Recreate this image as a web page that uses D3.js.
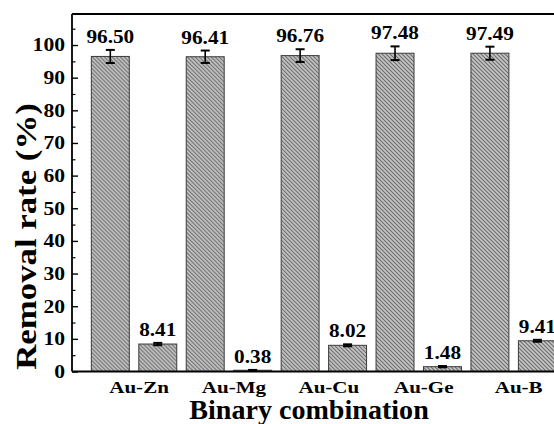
<!DOCTYPE html>
<html>
<head>
<meta charset="utf-8">
<script src="https://cdn.jsdelivr.net/npm/d3@7"></script>
</head>
<body style="margin:0;background:#fff">
<svg id="chart" width="554" height="424" style="display:block"></svg>
<script>
// Removal rate of each binary combination: first element (Au) vs. second element
const categories = ["Au-Zn", "Au-Mg", "Au-Cu", "Au-Ge", "Au-B"];
const seriesKeys = ["Au", "partner"];
const auValues = [96.50, 96.41, 96.76, 97.48, 97.49];
const auErrors = [2.0, 1.9, 1.95, 2.1, 2.0];
const partnerValues = [8.41, 0.38, 8.02, 1.48, 9.41];
const partnerErrors = [0.35, 0.1, 0.3, 0.2, 0.3];
const yTicks = [0, 10, 20, 30, 40, 50, 60, 70, 80, 90, 100];
const yMinorTicks = [5, 15, 25, 35, 45, 55, 65, 75, 85, 95, 105];

const rows = categories.map((c, i) => ({
  category: c,
  bars: [
    { key: "Au", value: auValues[i], err: auErrors[i] },
    { key: "partner", value: partnerValues[i], err: partnerErrors[i] }
  ]
}));

const svg = d3.select("#chart");
const plotLeft = 72, plotTop = 14, plotBottom = 371.5;

const x0 = d3.scaleBand().domain(categories).range([86.6, 561.1]).paddingInner(0.1).paddingOuter(0.05);
const x1 = d3.scaleBand().domain(seriesKeys).range([0, x0.bandwidth()]).paddingInner(0.2);
const y = d3.scaleLinear().domain([0, 109.5]).range([plotBottom, plotTop]);

// diagonal hatch fill
const defs = svg.append("defs");
const pat = defs.append("pattern")
  .attr("id", "hatch").attr("patternUnits", "userSpaceOnUse")
  .attr("width", 4).attr("height", 4);
pat.append("rect").attr("width", 4).attr("height", 4).attr("fill", "#c6c6c6");
pat.append("path")
  .attr("d", "M0,0 L4,4 M-1,3 L1,5 M3,-1 L5,1")
  .attr("stroke", "#6a6a6a").attr("stroke-width", 1.1);

// bold serif text placed at (x, y), widened horizontally by factor k
function styled(sel, size, k, xf, yf, rot) {
  sel.style("font-family", "'Liberation Serif'")
    .style("font-weight", "bold")
    .style("font-size", size + "px")
    .attr("fill", "#000")
    .attr("transform", (d, i) =>
      `translate(${xf(d, i)},${yf(d, i)})${rot ? ` rotate(${rot})` : ""} scale(${k},1)`);
}

// bars
const groups = svg.append("g").selectAll("g").data(rows).join("g")
  .attr("transform", d => `translate(${x0(d.category)},0)`);

groups.selectAll("rect").data(d => d.bars).join("rect")
  .attr("x", d => x1(d.key))
  .attr("y", d => y(d.value))
  .attr("width", x1.bandwidth())
  .attr("height", d => y(0) - y(d.value))
  .attr("fill", "url(#hatch)")
  .attr("stroke", "#3c3c3c")
  .attr("stroke-width", 1);

// error bars
const eb = groups.selectAll("g.err").data(d => d.bars).join("g").attr("class", "err")
  .attr("transform", d => `translate(${x1(d.key) + x1.bandwidth() / 2},0)`);
eb.append("line")
  .attr("y1", d => y(d.value + d.err)).attr("y2", d => y(d.value - d.err))
  .attr("stroke", "#000").attr("stroke-width", 1.6);
eb.append("line")
  .attr("x1", -4.5).attr("x2", 4.5)
  .attr("y1", d => y(d.value + d.err)).attr("y2", d => y(d.value + d.err))
  .attr("stroke", "#000").attr("stroke-width", 2);
eb.append("line")
  .attr("x1", -4.5).attr("x2", 4.5)
  .attr("y1", d => y(d.value - d.err)).attr("y2", d => y(d.value - d.err))
  .attr("stroke", "#000").attr("stroke-width", 2);

// value labels
groups.selectAll("text.val").data(d => d.bars).join("text").attr("class", "val")
  .attr("text-anchor", "middle")
  .text(d => d.value.toFixed(2))
  .call(styled, 18.5, 1.15,
    d => x1(d.key) + x1.bandwidth() / 2,
    d => y(d.value + d.err) - 7);

// frame: left axis, bottom axis, top border
svg.append("line").attr("x1", plotLeft).attr("x2", 554).attr("y1", plotTop).attr("y2", plotTop)
  .attr("stroke", "#000").attr("stroke-width", 2);
svg.append("line").attr("x1", plotLeft).attr("x2", 554).attr("y1", plotBottom).attr("y2", plotBottom)
  .attr("stroke", "#000").attr("stroke-width", 1.8);

// y axis with inward ticks
const yAxis = svg.append("g").attr("transform", `translate(${plotLeft},0)`)
  .call(d3.axisRight(y).tickValues(yTicks).tickSize(6).tickFormat(""));
yAxis.select(".domain").attr("d", `M0,${plotTop}V${plotBottom}`).attr("stroke-width", 1.8);
yAxis.selectAll(".tick line").attr("stroke-width", 1.4);
const yMinor = svg.append("g").attr("transform", `translate(${plotLeft},0)`)
  .call(d3.axisRight(y).tickValues(yMinorTicks).tickSize(3.5).tickFormat(""));
yMinor.select(".domain").remove();
yMinor.selectAll(".tick line").attr("stroke-width", 1.2);

svg.append("g").selectAll("text").data(yTicks).join("text")
  .attr("dy", "0.35em")
  .attr("text-anchor", "end")
  .text(d => d)
  .call(styled, 18, 1.2, () => 65, d => y(d));

// category labels
svg.append("g").selectAll("text").data(categories).join("text")
  .attr("text-anchor", "middle")
  .text(d => d)
  .call(styled, 17, 1.24, d => x0(d) + x0.bandwidth() / 2 + 5, () => 392.5);

// axis titles
svg.append("text")
  .attr("text-anchor", "middle")
  .text("Binary combination")
  .call(styled, 26.5, 1.06, () => 309, () => 419);

svg.append("text")
  .attr("text-anchor", "middle")
  .text("Removal rate (%)")
  .call(styled, 29, 1.2, () => 36, () => 236.5, -90);
</script>
</body>
</html>
